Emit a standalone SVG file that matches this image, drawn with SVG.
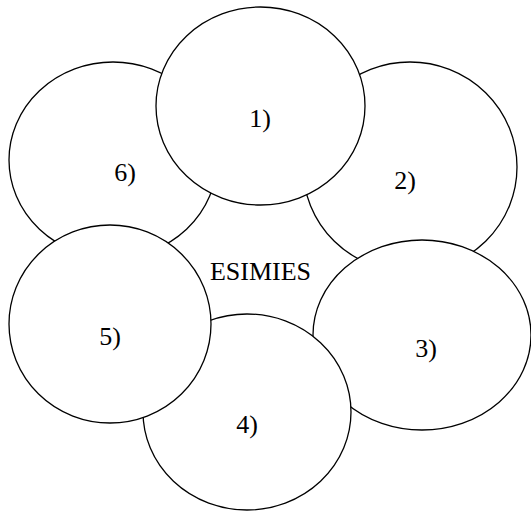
<svg xmlns="http://www.w3.org/2000/svg" width="531" height="511" viewBox="0 0 531 511">
<style>
.c{fill:#fff;stroke:#000;stroke-width:1.3}
.t{font-family:"Liberation Serif","Times New Roman",serif;font-size:26px;fill:#000;text-anchor:middle}
</style>
<rect width="531" height="511" fill="#fff"/>
<g id="node6"><ellipse class="c" cx="113" cy="160" rx="104" ry="98"/><text class="t" x="125" y="181">6)</text></g>
<g id="node2"><ellipse class="c" cx="410" cy="167" rx="107" ry="105"/><text class="t" x="405" y="189">2)</text></g>
<g id="node1"><ellipse class="c" cx="260.5" cy="106" rx="104.5" ry="99"/><text class="t" x="260" y="127">1)</text></g>
<g id="node3"><ellipse class="c" cx="422" cy="335" rx="109" ry="95"/><text class="t" x="426" y="357">3)</text></g>
<g id="node4"><ellipse class="c" cx="247" cy="412" rx="104" ry="98"/><text class="t" x="247" y="433">4)</text></g>
<g id="node5"><ellipse class="c" cx="110" cy="324" rx="101" ry="99"/><text class="t" x="110" y="345">5)</text></g>
<g id="center"><text class="t" x="260.5" y="280">ESIMIES</text></g>
<g id="connectors"></g>
</svg>
